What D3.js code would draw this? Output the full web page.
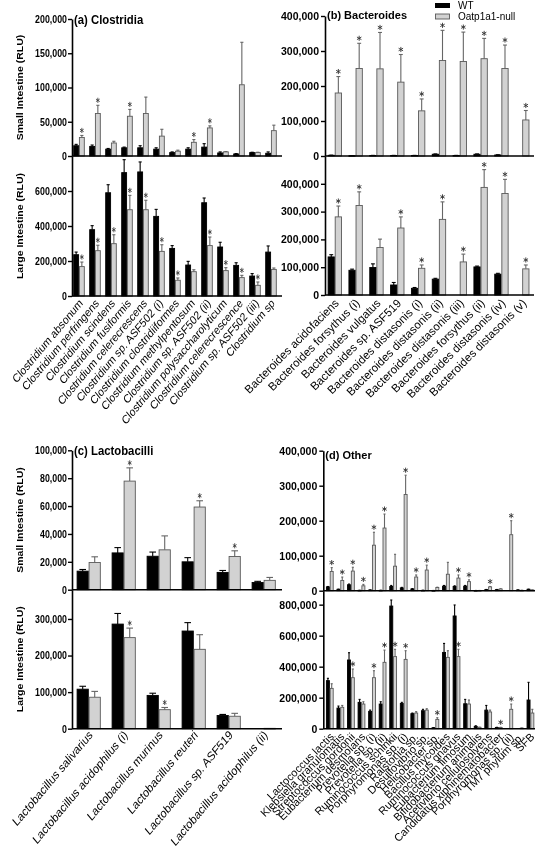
<!DOCTYPE html>
<html><head><meta charset="utf-8">
<script src="https://cdn.jsdelivr.net/npm/d3@7"></script>
<style>body{margin:0;background:#fff} svg{display:block;will-change:transform}</style>
</head><body><svg id="c" width="537" height="849"></svg>
<script>
// ---------- Panel (a) Clostridia ----------
const catsA = ["Clostridium absonum","Clostridium perfringens","Clostridium scindens","Clostridium fusiformis","Clostridium celerecrescens","Clostridium sp. ASF502 (i)","Clostridium clostridiiformes","Clostridium methylpentosum","Clostridium sp. ASF502 (ii)","Clostridium polysaccharolyticum","Clostridium celerecrescence","Clostridium sp. ASF502 (iii)","Clostridium sp"];
const siWtA    = [15000,14000,10000,12000,12000,10000,5000,10000,13000,4500,3000,5000,4000];
const siWtErrA = [2000,2000,1000,1000,3000,2000,1000,2000,5000,1500,500,500,2000];
const siNuA    = [27000,62000,19000,58000,62000,29000,7000,20000,41000,6000,104000,5000,37000];
const siNuErrA = [3000,12000,2500,10000,24000,10000,1500,4000,3000,500,62000,500,8000];
const siStarA  = [1,1,0,1,0,0,0,1,1,0,0,0,0];
const liWtA    = [236000,379000,590000,705000,709000,455000,272000,177000,533000,280000,175000,114000,251000];
const liWtErrA = [15000,23000,46000,74000,57000,40000,16000,21000,27000,27000,15000,14000,35000];
const liNuA    = [168000,259000,299000,493000,493000,255000,90000,139000,288000,145000,105000,61000,152000];
const liNuErrA = [26000,31000,51000,82000,54000,38000,13000,11000,49000,17000,13000,19000,8000];
const liStarA  = [1,1,1,1,1,1,1,0,1,1,1,1,0];
const siTicksA = [0,50000,100000,150000,200000];
const liTicksA = [0,200000,400000,600000];

// ---------- Panel (b) Bacteroides ----------
const catsB = ["Bacteroides acidofaciens","Bacteroides forsythus (i)","Bacteroides vulgatus","Bacteroides sp. ASF519","Bacteroides distasonis (i)","Bacteroides distasonis (ii)","Bacteroides distasonis (iii)","Bacteroides forsythus (ii)","Bacteroides distasonis (iv)","Bacteroides distasonis (v)"];
const siWtB    = [2000,1000,1500,1500,1500,5000,1500,5000,3000,0];
const siWtErrB = [500,300,300,300,300,1000,300,1000,500,0];
const siNuB    = [180000,250000,249000,211000,129000,273000,270000,278000,250000,103000];
const siNuErrB = [47000,72000,104000,79000,34000,86000,84000,58000,67000,27000];
const siStarB  = [1,1,1,1,1,1,1,1,1,1];
const liWtB    = [137000,89000,99000,36000,24000,57000,0,101000,75000,0];
const liWtErrB = [8000,4000,13000,9000,3000,3000,0,3000,3000,0];
const liNuB    = [281000,322000,171000,241000,96000,272000,119000,387000,365000,94000];
const liNuErrB = [39000,49000,30000,40000,12000,63000,28000,64000,51000,14000];
const liStarB  = [1,1,0,1,1,1,1,1,1,1];
const siTicksB = [0,100000,200000,300000,400000];
const liTicksB = [0,100000,200000,300000,400000];

// ---------- Panel (c) Lactobacilli ----------
const catsC = ["Lactobacillus salivarius","Lactobacillus acidophilus (i)","Lactobacillus murinus","Lactobacillus reuteri","Lactobacillus sp. ASF519","Lactobacillus acidophilus (ii)"];
const siWtC    = [13300,26400,24000,20000,12400,5200];
const siWtErrC = [1200,3800,3000,3000,1400,800];
const siNuC    = [19500,77900,28600,59300,23800,6700];
const siNuErrC = [4100,9500,10000,4500,4100,2100];
const siStarC  = [0,1,0,1,1,0];
const liWtC    = [108000,286000,91000,267000,36000,0];
const liWtErrC = [8000,29000,6000,23000,3000,0];
const liNuC    = [86000,249000,52000,217000,34000,1000];
const liNuErrC = [16000,26000,6000,40000,8000,0];
const liStarC  = [0,1,1,0,0,0];
const siTicksC = [0,20000,40000,60000,80000,100000];
const liTicksC = [0,100000,200000,300000];

// ---------- Panel (d) Other ----------
const catsD = ["Lactococcus lactis","Klebsiella granulomatis","Streptococcus gordonii","Eubacterium desmolans","Prevotella sp. (i)","Prevotella sp. (ii)","Ruminococcus schinkii","Porphyromonas sp. (i)","Ralstonia sp.","Desulfovibrio sp.","Helicobacter sp.","Bacillus mycoides","Ruminococcus gnavus","Eubacterium limosum","Bifidobacterium animalis","Acetivibrio cellulosolvens","Candidatus xiphinematobacter","Porphyromonas sp. (ii)","TM7 phylum sp.","SFB"];
const siWtD    = [11000,4000,17000,1000,2000,1000,12000,8000,5000,1000,500,13000,12000,13000,500,3000,3000,0,2000,4000];
const siWtErrD = [1000,500,2000,300,300,300,3000,1500,1000,300,200,2000,2000,2000,200,500,500,0,300,500];
const siNuD    = [55000,29000,56000,14000,130000,179000,70000,275000,39000,59000,9000,47000,36000,26000,500,11000,5000,160000,1000,2000];
const siNuErrD = [11000,10000,11000,4000,37000,40000,34000,55000,6000,14000,1000,34000,9000,5000,200,1000,500,40000,300,300];
const siStarD  = [1,1,1,1,1,1,0,1,1,1,0,0,1,1,0,1,0,1,0,0];
const liWtD    = [310000,133000,443000,170000,112000,159000,791000,163000,97000,116000,6000,492000,727000,161000,15000,120000,8000,0,0,185000];
const liWtErrD = [15000,13000,47000,19000,8000,15000,39000,7000,4000,9000,1000,58000,71000,28000,4000,30000,1000,0,0,114000];
const liNuD    = [260000,138000,329000,159000,329000,428000,465000,447000,101000,120000,60000,460000,465000,159000,9000,108000,8000,125000,4000,101000];
const liNuErrD = [30000,12000,56000,15000,45000,79000,47000,56000,9000,9000,11000,43000,47000,26000,1000,12000,1000,34000,500,24000];
const liStarD  = [0,0,1,0,1,1,1,1,0,0,1,0,1,0,0,0,1,1,0,0];
const siTicksD = [0,100000,200000,300000,400000];
const liTicksD = [0,200000,400000,600000,800000];

const seriesNames = ["WT","Oatp1a1-null"];

// ---------------- drawing ----------------
const FONT = "'Liberation Sans', Arial, Helvetica, sans-serif";
const GRAY = "#d2d2d2", GRAYSTROKE = "#5a5a5a";
const svg = d3.select("#c");
const starPath = d3.symbol().type(d3.symbolAsterisk || d3.symbolCross).size(18)();

function drawPanel(p) {
  const g = svg.append("g");
  const n = p.cats.length;
  const x = d3.scaleBand().domain(p.cats)
    .range([p.f, p.f + p.s * (n - p.pi)]).paddingInner(p.pi).paddingOuter(0).align(0);
  const xs = d3.scaleBand().domain(seriesNames).range([0, x.bandwidth()]);
  const bw = xs.bandwidth();
  const parts = [
    {y: d3.scaleLinear().domain([0, p.siMax]).range([p.yMid, p.yTop]), ticks: p.siTicks,
     wt: p.siWt, wtE: p.siWtErr, nu: p.siNu, nuE: p.siNuErr, star: p.siStar},
    {y: d3.scaleLinear().domain([0, p.liMax]).range([p.yBot, p.yMid]), ticks: p.liTicks,
     wt: p.liWt, wtE: p.liWtErr, nu: p.liNu, nuE: p.liNuErr, star: p.liStar}
  ];
  parts.forEach(pt => {
    const y = pt.y;
    const rows = [];
    p.cats.forEach((c, i) => {
      rows.push({c, s: "WT", v: pt.wt[i], e: pt.wtE[i], star: 0});
      rows.push({c, s: "Oatp1a1-null", v: pt.nu[i], e: pt.nuE[i], star: pt.star[i]});
    });
    const gg = g.append("g");
    const cap = Math.max(2, bw * 0.55);
    rows.filter(r => r.e > 0).forEach(r => {
      const cx = x(r.c) + xs(r.s) + bw / 2;
      const col = r.s === "WT" ? "#000" : "#666";
      gg.append("line").attr("x1", cx).attr("x2", cx).attr("y1", y(r.v)).attr("y2", y(r.v + r.e))
        .attr("stroke", col).attr("stroke-width", 1.1);
      gg.append("line").attr("x1", cx - cap / 2).attr("x2", cx + cap / 2).attr("y1", y(r.v + r.e)).attr("y2", y(r.v + r.e))
        .attr("stroke", col).attr("stroke-width", 1.1);
    });
    gg.selectAll("rect.bar").data(rows.filter(r => r.v > 0)).join("rect")
      .attr("x", r => x(r.c) + xs(r.s) + 0.4)
      .attr("width", bw - 0.8)
      .attr("y", r => y(r.v))
      .attr("height", r => Math.max(0.6, y(0) - y(r.v)))
      .attr("fill", r => r.s === "WT" ? "#000" : GRAY)
      .attr("stroke", r => r.s === "WT" ? "#000" : GRAYSTROKE)
      .attr("stroke-width", 0.9);
    gg.selectAll("path.star").data(rows.filter(r => r.star)).join("path")
      .attr("transform", r => `translate(${x(r.c) + xs(r.s) + bw / 2},${y(r.v + r.e) - 5}) scale(${p.sq},1)`)
      .attr("d", starPath).attr("fill", "none").attr("stroke", "#333").attr("stroke-width", 0.9);
    g.append("line").attr("x1", p.ax).attr("x2", p.xEnd).attr("y1", y(0)).attr("y2", y(0))
      .attr("stroke", "#000").attr("stroke-width", 1.6);
    const axg = g.append("g").attr("transform", `translate(${p.ax},0)`)
      .call(d3.axisLeft(y).tickValues(pt.ticks).tickFormat(d3.format(",")).tickSize(4).tickSizeOuter(0));
    axg.select(".domain").attr("stroke-width", 1.6);
    axg.selectAll(".tick line").attr("stroke-width", 1.4);
    axg.selectAll(".tick text").attr("font-family", FONT).attr("font-weight", "bold")
      .attr("font-size", p.tickSize).attr("x", -6).attr("transform", `scale(${p.sq},1)`).attr("fill", "#000");
  });
  g.selectAll("text.cat").data(p.cats).join("text")
    .attr("transform", c => `translate(${x(c) + x.bandwidth() / 2 + 2},${p.yBot + p.labelDy}) scale(${p.sq},1) rotate(-45)`)
    .attr("text-anchor", "end").attr("dy", "0.35em").attr("fill", "#000")
    .attr("font-family", FONT).attr("font-size", p.labelSize)
    .text(c => c);
  g.append("text").attr("transform", `translate(${p.ax + 2},${p.titleY}) scale(${p.sq},1)`)
    .attr("font-family", FONT).attr("font-weight", "bold").attr("font-size", p.titleSize).text(p.title);
  if (p.yTitles) {
    [["Small Intestine (RLU)", (p.yTop + p.yMid) / 2], ["Large Intestine (RLU)", (p.yMid + p.yBot) / 2]].forEach(([t, cy]) => {
      g.append("text").attr("transform", `translate(20,${cy}) scale(${p.sq},1) rotate(-90)`)
        .attr("text-anchor", "middle").attr("dy", "0.35em")
        .attr("font-family", FONT).attr("font-weight", "bold").attr("font-size", 10.5).text(t);
    });
  }
}

const SQ = 0.84;
drawPanel({cats: catsA, siWt: siWtA, siWtErr: siWtErrA, siNu: siNuA, siNuErr: siNuErrA, siStar: siStarA,
  liWt: liWtA, liWtErr: liWtErrA, liNu: liNuA, liNuErr: liNuErrA, liStar: liStarA,
  siTicks: siTicksA, liTicks: liTicksA, siMax: 200000, liMax: 800000,
  ax: 72, xEnd: 282, f: 73.3, s: 16, pi: 0.2875, yTop: 19, yMid: 156, yBot: 296,
  sq: SQ, tickSize: 10.5, labelSize: 12, labelDy: 5, title: "(a) Clostridia", titleSize: 13.5, titleY: 23.5, yTitles: true});
drawPanel({cats: catsB, siWt: siWtB, siWtErr: siWtErrB, siNu: siNuB, siNuErr: siNuErrB, siStar: siStarB,
  liWt: liWtB, liWtErr: liWtErrB, liNu: liNuB, liNuErr: liNuErrB, liStar: liStarB,
  siTicks: siTicksB, liTicks: liTicksB, siMax: 400000, liMax: 500000,
  ax: 325, xEnd: 534, f: 327.7, s: 20.83, pi: 0.318, yTop: 16, yMid: 156, yBot: 295,
  sq: 1, tickSize: 10.5, labelSize: 11.5, labelDy: 6, title: "(b) Bacteroides", titleSize: 11, titleY: 19, yTitles: false});
drawPanel({cats: catsC, siWt: siWtC, siWtErr: siWtErrC, siNu: siNuC, siNuErr: siNuErrC, siStar: siStarC,
  liWt: liWtC, liWtErr: liWtErrC, liNu: liNuC, liNuErr: liNuErrC, liStar: liStarC,
  siTicks: siTicksC, liTicks: liTicksC, siMax: 100000, liMax: 380000,
  ax: 72, xEnd: 282, f: 76.7, s: 35, pi: 0.314, yTop: 450.3, yMid: 589.7, yBot: 728.7,
  sq: SQ, tickSize: 10.5, labelSize: 12.6, labelDy: 4, title: "(c) Lactobacilli", titleSize: 13.5, titleY: 454.5, yTitles: true});
drawPanel({cats: catsD, siWt: siWtD, siWtErr: siWtErrD, siNu: siNuD, siNuErr: siNuErrD, siStar: siStarD,
  liWt: liWtD, liWtErr: liWtErrD, liNu: liNuD, liNuErr: liNuErrD, liStar: liStarD,
  siTicks: siTicksD, liTicks: liTicksD, siMax: 400000, liMax: 890000,
  ax: 323.3, xEnd: 535, f: 326, s: 10.56, pi: 0.28, yTop: 450.7, yMid: 590.7, yBot: 728.7,
  sq: 1, tickSize: 10.5, labelSize: 11, labelDy: 6, title: "(d) Other", titleSize: 11, titleY: 458.5, yTitles: false});

const lg = svg.append("g").attr("font-family", FONT).attr("font-size", 10);
lg.append("rect").attr("x", 435).attr("y", 3).attr("width", 15).attr("height", 5).attr("fill", "#000");
lg.append("text").attr("x", 458).attr("y", 9).text(seriesNames[0]);
lg.append("rect").attr("x", 435.5).attr("y", 14).attr("width", 14).attr("height", 5).attr("fill", GRAY).attr("stroke", GRAYSTROKE).attr("stroke-width", 0.9);
lg.append("text").attr("x", 458).attr("y", 20).text(seriesNames[1]);
</script></body></html>
